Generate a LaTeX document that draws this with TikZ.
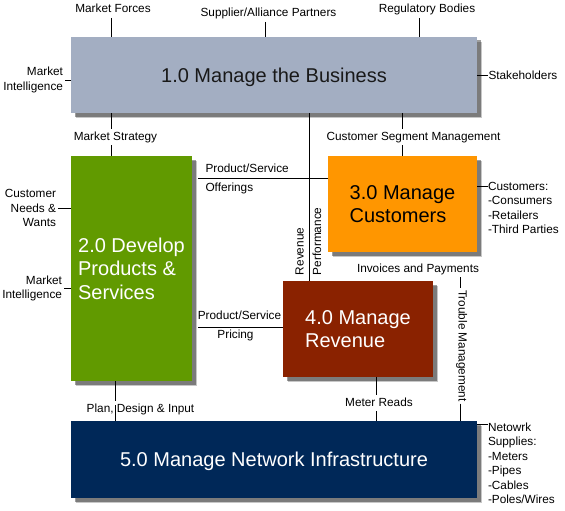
\documentclass[tikz,border=0pt]{standalone}
\usepackage{fontspec}
\setmainfont{Liberation Sans}
\usetikzlibrary{shadows}
\definecolor{cbiz}{HTML}{A3AEC2}
\definecolor{cdev}{HTML}{619A00}
\definecolor{ccus}{HTML}{FF9600}
\definecolor{crev}{HTML}{8A2200}
\definecolor{cnet}{HTML}{002858}
\pgfdeclarelayer{bg}
\pgfsetlayers{bg,main}
\begin{document}
\begin{tikzpicture}[x=1pt,y=-1pt,
  lbl/.style={font=\fontsize{11.8}{14.2}\selectfont, inner sep=0pt, outer sep=2.5pt, text height=8.5pt, text depth=2.5pt},
  mlbl/.style={font=\fontsize{11.8}{14.2}\selectfont, inner sep=0pt, outer sep=2pt},
  box/.style={draw=none, inner sep=0pt, font=\fontsize{20}{23.5}\selectfont, align=left,
    general shadow={fill=black, opacity=.22, shadow xshift=5pt, shadow yshift=-5pt},
    general shadow={fill=black, opacity=.38, shadow xshift=3.5pt, shadow yshift=-3.5pt}},
  conn/.style={line width=0.9pt, black}
]
\useasboundingbox (0,0) rectangle (565,511);

% boxes
\node[box, fill=cbiz, text=black!90, minimum width=406pt, minimum height=76pt, text depth=0pt] (b1) at (274,75) {1.0 Manage the Business};
\node[box, fill=cdev, text=white, minimum width=121pt, minimum height=225pt] (b2) at (131.5,268.5) {2.0 Develop\\Products \&\\Services};
\node[box, fill=ccus, text=black, minimum width=149pt, minimum height=96pt] (b3) at (402.5,204) {3.0 Manage\\Customers};
\node[box, fill=crev, text=white, minimum width=150pt, minimum height=96pt] (b4) at (358,329) {4.0 Manage\\Revenue};
\node[box, fill=cnet, text=white, minimum width=406pt, minimum height=77pt, text depth=0pt] (b5) at (274,459.5) {5.0 Manage Network Infrastructure};

% labels
\node[lbl] (mf) at (113,10) {Market Forces};
\node[lbl] (sap) at (268.5,14) {Supplier/Alliance Partners};
\node[lbl] (rb) at (427,10) {Regulatory Bodies};
\node[mlbl, align=right, anchor=east] (mi1) at (65,80) {Market\\Intelligence};
\node[lbl, anchor=west, outer sep=0.5pt] (sh) at (488,77) {Stakeholders};
\node[lbl] (ms) at (115.5,137) {Market Strategy};
\node[lbl] (csm) at (413.5,137) {Customer Segment Management};
\node[lbl, anchor=west] (pso1) at (203,169) {Product/Service};
\node[lbl, anchor=west] (pso2) at (203,188) {Offerings};
\node[mlbl, align=right, anchor=east] (cnw) at (58,208) {Customer\\Needs \&\\Wants};
\node[mlbl, align=right, anchor=east] (mi2) at (64,288.5) {Market\\Intelligence};
\node[lbl, rotate=90, anchor=west, outer sep=0pt] (rev) at (300.5,275) {Revenue};
\node[lbl, rotate=90, anchor=west, outer sep=0pt] (perf) at (318,275) {Performance};
\node[mlbl, align=left, anchor=north west, outer sep=0pt] (cust) at (488,182.5) {Customers:\\-Consumers\\-Retailers\\-Third Parties};
\node[lbl] (ip) at (418,269) {Invoices and Payments};
\node[lbl, rotate=-90, anchor=west, outer sep=2pt] (tm) at (461.5,288) {Trouble Management};
\node[lbl] (psp1) at (239.5,316) {Product/Service};
\node[lbl] (psp2) at (235.5,335) {Pricing};
\node[lbl] (pdi) at (140.5,409) {Plan, Design \& Input};
\node[lbl] (mr) at (379,403) {Meter Reads};
\node[mlbl, align=left, anchor=north west, outer sep=0pt, font=\fontsize{11.8}{14.5}\selectfont] (net) at (488,422.5) {Netowrk\\Supplies:\\-Meters\\-Pipes\\-Cables\\-Poles/Wires};

% helper coordinates
\coordinate (mfx) at (111,0);
\coordinate (sapx) at (265,0);
\coordinate (rbx) at (419,0);
\coordinate (msx) at (111,0);
\coordinate (cx) at (309,0);
\coordinate (pso) at (198,178);
\coordinate (psp) at (198,327);
\coordinate (custy) at (0,186);
\coordinate (tmx) at (460,0);
\coordinate (mrx) at (376,0);
\coordinate (pdix) at (115.5,0);
\coordinate (nety) at (0,424);

\begin{pgfonlayer}{bg}
\draw[conn] (mfx |- mf.south) -- (mfx |- b1.north);
\draw[conn] (sapx |- sap.south) -- (sapx |- b1.north);
\draw[conn] (rbx |- rb.south) -- (rbx |- b1.north);
\draw[conn] (mi1.east) -- (mi1.east -| b1.west);
\draw[conn] (b1.east) -- (b1.east -| sh.west);
\draw[conn] (msx |- b1.south) -- (msx |- ms.north);
\draw[conn] (msx |- ms.south) -- (msx |- b2.north);
\draw[conn] (cx |- b1.south) -- (cx |- b4.north);
\draw[conn] (b3.north |- b1.south) -- (b3.north |- csm.north);
\draw[conn] (b3.north |- csm.south) -- (b3.north);
\draw[conn] (pso) -- (pso -| b3.west);
\draw[conn] (cnw.east) -- (cnw.east -| b2.west);
\draw[conn] (mi2.east) -- (mi2.east -| b2.west);
\draw[conn] (b3.east |- custy) -- (cust.west |- custy);
\draw[conn] (tmx |- ip.south) -- (tmx |- tm.west);
\draw[conn] (tmx |- tm.east) -- (tmx |- b5.north);
\draw[conn] (psp) -- (psp -| b4.west);
\draw[conn] (mrx |- b4.south) -- (mrx |- mr.north);
\draw[conn] (mrx |- mr.south) -- (mrx |- b5.north);
\draw[conn] (pdix |- b2.south) -- (pdix |- pdi.north);
\draw[conn] (pdix |- pdi.center) ++(0,-4) -- (pdix |- b5.north);
\draw[conn] (b5.east |- nety) -- (net.west |- nety);
\end{pgfonlayer}
\end{tikzpicture}
\end{document}
